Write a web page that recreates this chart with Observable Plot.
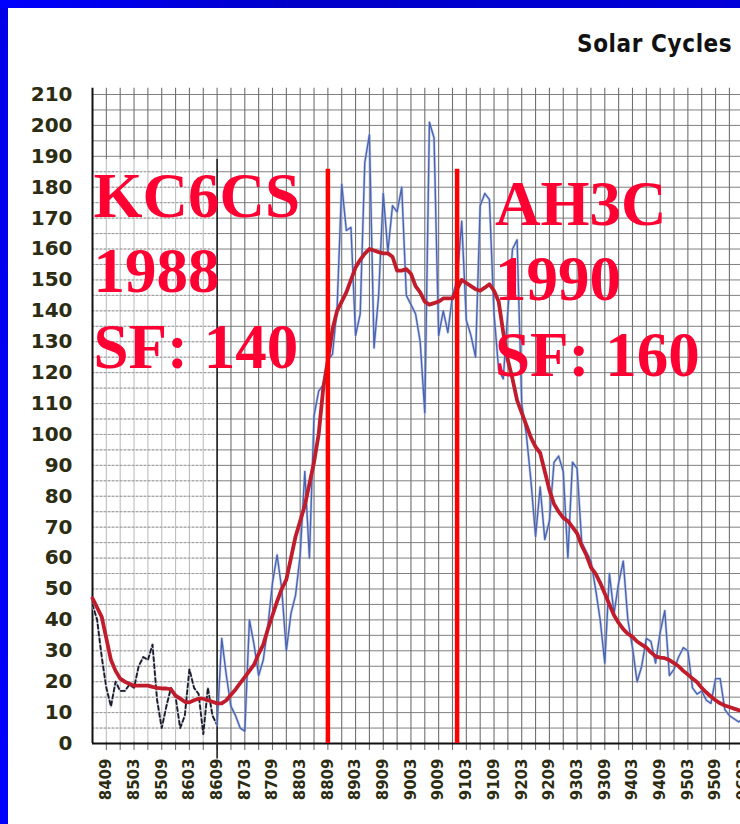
<!DOCTYPE html>
<html>
<head>
<meta charset="utf-8">
<script src="https://cdn.jsdelivr.net/npm/d3@7"></script>
<script src="https://cdn.jsdelivr.net/npm/@observablehq/plot@0.6"></script>
<style>
  html, body { margin: 0; padding: 0; background: #fff; }
  #wrap { position: relative; width: 740px; height: 824px; overflow: hidden; background: #fff; }
  #chart { position: absolute; left: 0; top: 0; width: 800px; }
  #chart svg { max-width: none !important; }
  #title { position: absolute; left: 577px; top: 31px; font-family: "DejaVu Sans Condensed", "DejaVu Sans", sans-serif; font-stretch: condensed; font-weight: bold; font-size: 24px; letter-spacing: 0.6px; line-height: 26px; color: #111; white-space: nowrap; }
  #bl { position: absolute; left: 0; top: 0; width: 8px; height: 824px; background: linear-gradient(#0000e8, #0000ff); z-index: 3; }
  #bt { position: absolute; left: 0; top: 0; width: 740px; height: 8px; background: linear-gradient(90deg, #0000ff, #0000c8 40%, #0000d8); z-index: 3; }
</style>
</head>
<body>
<div id="wrap">
  <div id="chart"></div>
  <div id="title">Solar Cycles</div>
  <div id="bl"></div>
  <div id="bt"></div>
</div>
<script>
// ---- data (monthly, first value = 8406) ----
const startMonth = "8406";
const monthlySunspots = [
  45,40,28,18,12,20,17,17,19,18,25,28,27,32,14,5,12,18,15,5,9,24,18,16,3,18,9,6,
  34,22,12,9,5,4,40,32,22,27,38,52,61,50,30,42,48,61,88,60,106,114,116,
  124,126,141,181,166,167,132,139,188,197,128,145,178,159,174,172,180,145,142,139,
  130,107,201,196,132,140,133,145,150,169,137,132,125,174,178,176,139,121,118,140,160,163,
  110,100,85,67,83,66,72,91,93,88,60,91,89,65,62,59,50,40,26,55,
  42,52,59,40,31,20,25,34,33,26,36,43,22,24,28,31,30,18,16,17,14,13,21,21,11,9,8,7,8
];
const smoothedSunspots = [
  47,44,41,34,27,23.5,21,20,19.3,18.7,
  18.7,18.7,18.7,18.3,18,17.8,17.8,17.5,15.5,14.5,
  13.5,13.3,14,14.5,14.5,14,13.5,13,13,14,
  15.8,17.5,19.5,21.5,23.5,25.5,29,32,37,41.5,
  46,50,53,60,67,72,77,84,91,100,
  115,124,134,140,143,146,150,154,156.5,158.5,
  160,159.5,159,158.6,158.6,157.5,153,153,153.5,152,
  148,146,143,142,142.5,143,144,144,144,147,
  150,149,148,147,146.5,147.5,148.6,146.5,143,133,
  124,118,111,107,103,99,96,94,88,82,
  77.5,75,73,72,70,68,64,61,57,55,
  52,48.5,45,41.5,39,37,35.5,34.5,33,32,
  31,29.5,28.2,27.8,27.6,27,26,25,23.5,22.3,
  21,19.8,18,16.5,15.2,14,13,12.3,11.8,11.3,
  10.8,10.5
];
const xTickLabels = ["8409","8503","8509","8603","8609","8703","8709","8803","8809","8903","8909","9003",
  "9009","9103","9109","9203","9209","9303","9309","9403","9409","9503","9509","9603"];
const yTickLabels = [0,10,20,30,40,50,60,70,80,90,100,110,120,130,140,150,160,170,180,190,200,210];
const insetEnd = "8609";          // end of pasted older chart section
const markerMonths = ["8809","9101"];
const annotations = [
  {text: "KC6CS\n1988\nSF: 140", at: "8406", v: 121.5},
  {text: "AH3C\n1990\nSF: 160", at: "9109", v: 119}
];

// ---- helpers ----
const monthIndex = s => (+s.slice(0, 2) - +startMonth.slice(0, 2)) * 12 + (+s.slice(2) - +startMonth.slice(2));
const labelOf = new Map(xTickLabels.map(l => [monthIndex(l), l]));
const blue = monthlySunspots.map((v, i) => ({m: i, v}));
const red = smoothedSunspots.map((v, i) => ({m: i, v}));
const insetM = monthIndex(insetEnd);
const vGrid = d3.range(3, 145, 3);
const hGrid = d3.range(5, 211, 5);
const ink = "#2c2c12";

const chart = Plot.plot({
  width: 800, height: 824,
  marginLeft: 92, marginRight: 43.4, marginTop: 94, marginBottom: 81,
  x: {domain: [0, 144]},
  y: {domain: [0, 210]},
  style: {background: "transparent", fontFamily: "DejaVu Sans, sans-serif", maxWidth: "none"},
  marks: [
    Plot.ruleY(hGrid, {stroke: "#808080", strokeWidth: 1}),
    Plot.ruleX(vGrid, {y1: -2.3, y2: 212, stroke: "#707070", strokeWidth: 1.1}),
    Plot.rect([0], {x1: 0.2, x2: insetM, y1: 0.4, y2: 189, fill: "white", fillOpacity: 0.55}),
    Plot.ruleY(hGrid.filter(d => d < 189), {x1: 0, x2: insetM, stroke: "#9a9a9a", strokeDasharray: "2,2", strokeWidth: 1}),
    Plot.axisY({ticks: yTickLabels, tickSize: 0, tickPadding: 20, fontSize: 20, fontWeight: "bold", fill: ink, label: null}),
    Plot.axisX({ticks: xTickLabels.map(monthIndex), tickFormat: m => labelOf.get(m), tickSize: 0, tickPadding: 15,
      tickRotate: -90, fontSize: 15, fontWeight: "bold", fill: ink, label: null}),
    Plot.ruleX([0], {y1: 0, y2: 212, stroke: "#111", strokeWidth: 2}),
    Plot.ruleY([0], {stroke: "#111", strokeWidth: 2}),
    Plot.ruleX([insetM], {y1: -5, y2: 189, stroke: "#222", strokeWidth: 1.6}),
    Plot.line(blue.filter(d => d.m <= insetM), {x: "m", y: "v", stroke: "#c8ccd8", strokeWidth: 2.5}),
    Plot.line(blue.filter(d => d.m <= insetM), {x: "m", y: "v", stroke: "#1c1c28", strokeWidth: 1.8, strokeDasharray: "4,3"}),
    Plot.line(blue.filter(d => d.m >= insetM), {x: "m", y: "v", stroke: "#a8b8e0", strokeWidth: 2.8, strokeOpacity: 0.6}),
    Plot.line(blue.filter(d => d.m >= insetM), {x: "m", y: "v", stroke: "#4a64b2", strokeWidth: 1.4}),
    Plot.line(red, {x: "m", y: "v", stroke: "#c01c2c", strokeWidth: 3.8, strokeLinejoin: "round"}),
    Plot.ruleX(markerMonths.map(monthIndex), {y1: 0, y2: 185.8, stroke: "#ff0000", strokeWidth: 4.5}),
    Plot.text(annotations, {x: d => monthIndex(d.at) + 0.2, y: "v", text: "text", textAnchor: "start", lineAnchor: "bottom",
      lineHeight: 1.2, fontSize: 63, fontWeight: "bold", fontFamily: "Liberation Serif, Times New Roman, serif", fill: "#ff0033"})
  ]
});
document.getElementById("chart").appendChild(chart);
</script>
</body>
</html>
